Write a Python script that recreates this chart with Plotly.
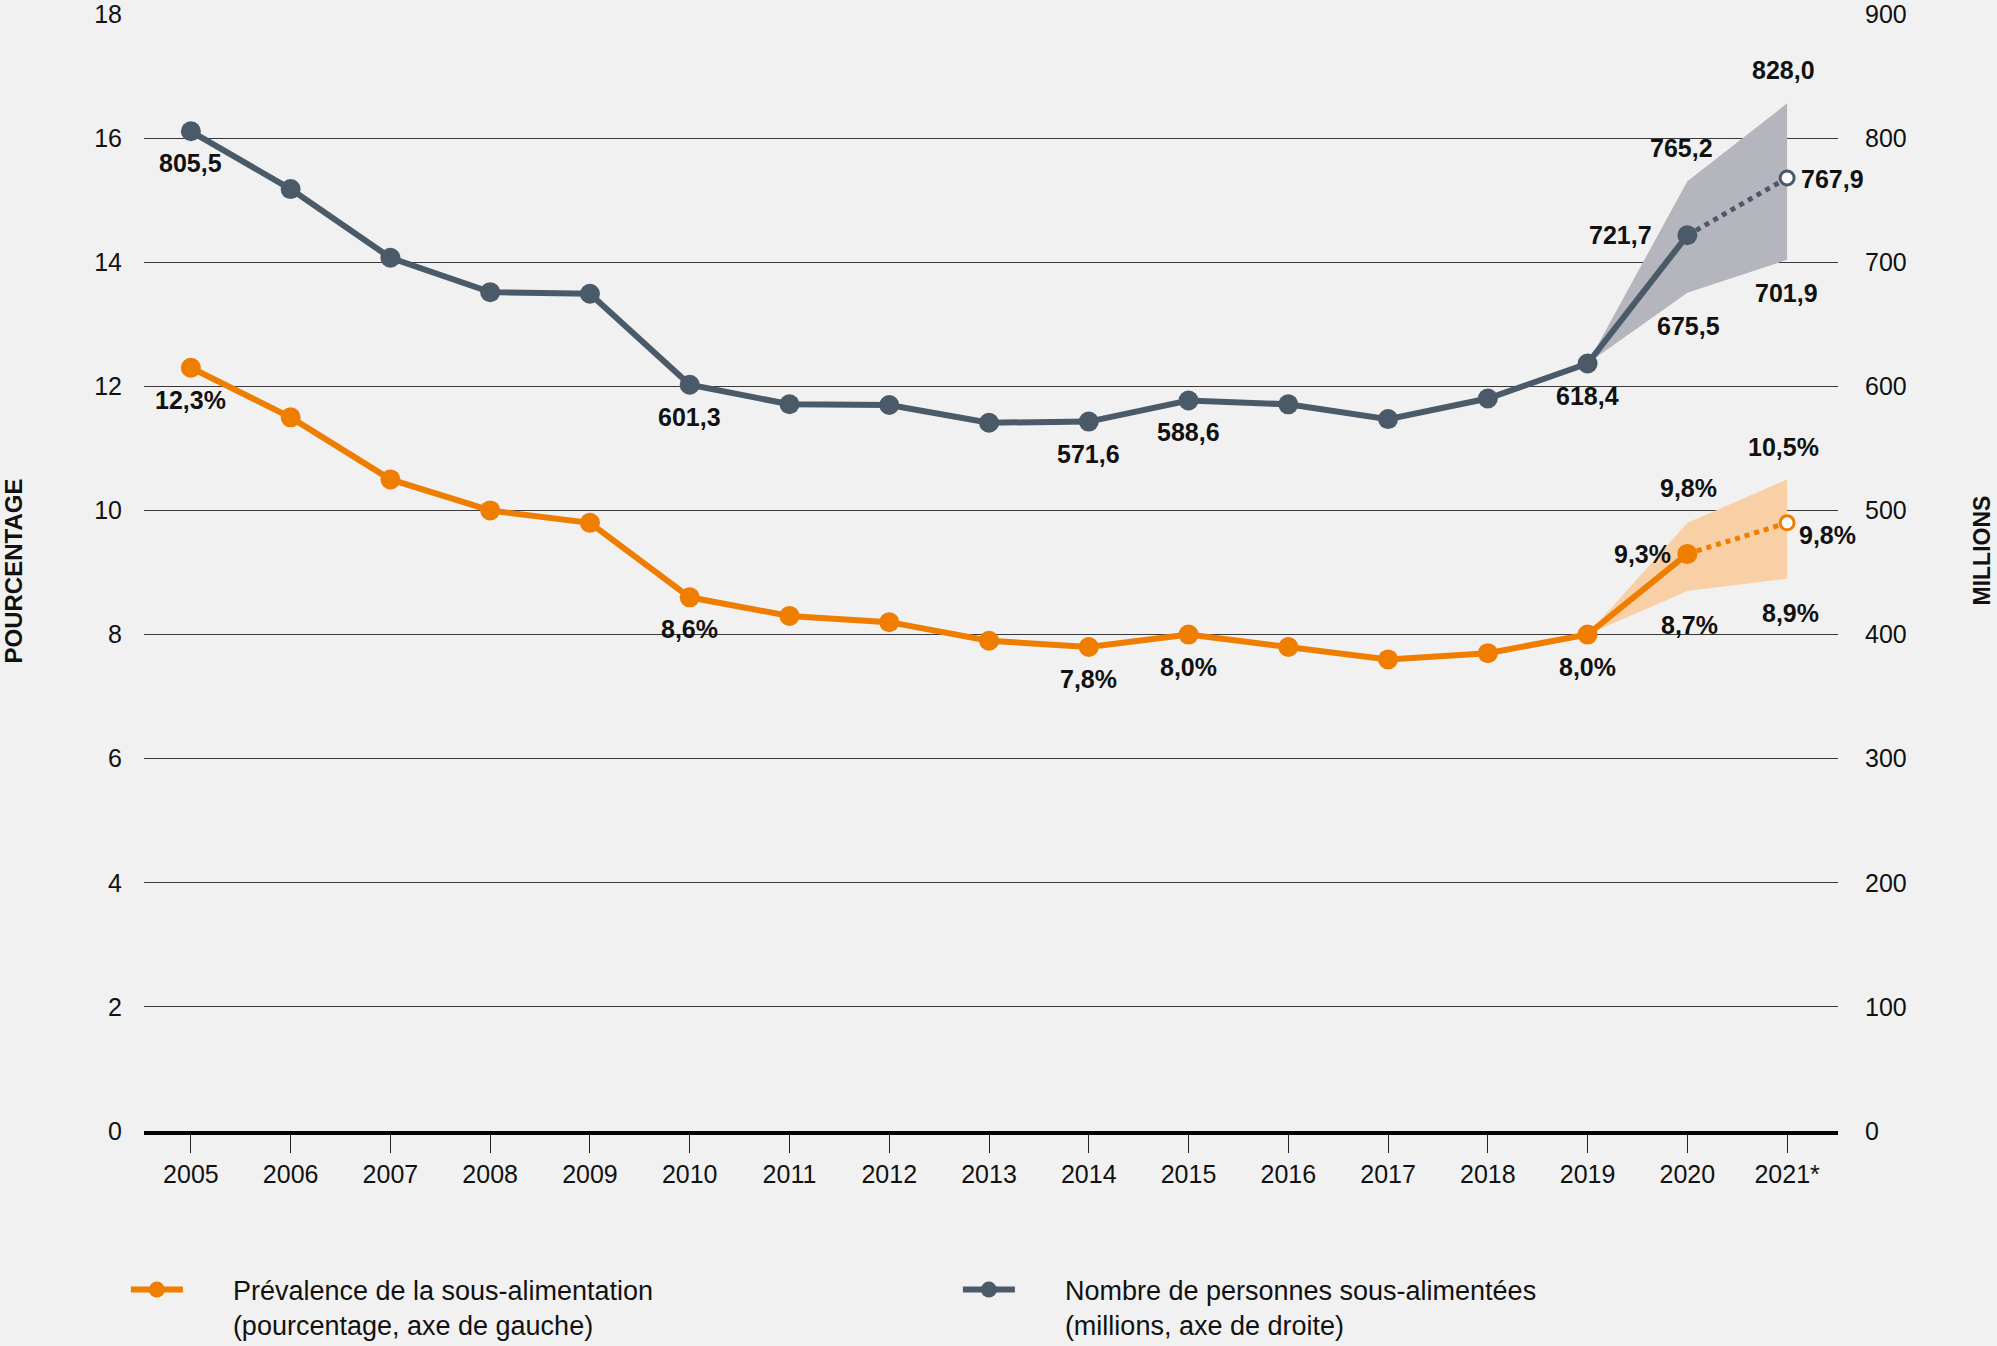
import plotly.graph_objects as go

years = ["2005", "2006", "2007", "2008", "2009", "2010", "2011", "2012", "2013",
         "2014", "2015", "2016", "2017", "2018", "2019", "2020", "2021*"]
prevalence = [12.3, 11.5, 10.5, 10.0, 9.8, 8.6, 8.3, 8.2, 7.9, 7.8, 8.0, 7.8, 7.6, 7.7, 8.0, 9.3, 9.8]
undernourished = [805.5, 758.9, 703.6, 675.9, 674.6, 601.3, 585.6, 585.0, 570.7, 571.6,
                  588.6, 585.5, 573.6, 590.2, 618.4, 721.7, 767.9]
# uncertainty ranges for 2020 and 2021*
range_years = ["2020", "2021*"]
prev_low = [8.7, 8.9]
prev_high = [9.8, 10.5]
num_low = [675.5, 701.9]
num_high = [765.2, 828.0]

left_ticks = [0, 2, 4, 6, 8, 10, 12, 14, 16, 18]
right_ticks = [0, 100, 200, 300, 400, 500, 600, 700, 800, 900]

ORANGE = "#EE7D00"
GRAY = "#4B5A69"
ORANGE_BAND = "#F9CFA6"
GRAY_BAND = "#B5B6BD"
BG = "#F1F1F1"
FONT = "Liberation Sans, Arial, sans-serif"
PAD = "\u00a0" * 6

x_idx = list(range(len(years)))
i19 = years.index("2019")
r_idx = [years.index(y) for y in range_years]

def fmt(v):
    return f"{v:.1f}".replace(".", ",")

fig = go.Figure()

# uncertainty bands (polygons built from the data)
band_x = [i19] + r_idx + r_idx[::-1] + [i19]
fig.add_trace(go.Scatter(
    x=band_x, y=[undernourished[i19]] + num_high + num_low[::-1] + [undernourished[i19]],
    fill="toself", fillcolor=GRAY_BAND, line=dict(width=0), mode="lines",
    yaxis="y2", showlegend=False, hoverinfo="skip"))
fig.add_trace(go.Scatter(
    x=band_x, y=[prevalence[i19]] + prev_high + prev_low[::-1] + [prevalence[i19]],
    fill="toself", fillcolor=ORANGE_BAND, line=dict(width=0), mode="lines",
    yaxis="y", showlegend=False, hoverinfo="skip"))

# projection dotted segments
last = len(years) - 1
fig.add_trace(go.Scatter(
    x=x_idx[last - 1:], y=undernourished[last - 1:], mode="lines",
    line=dict(color=GRAY, width=5, dash="dot"), yaxis="y2", showlegend=False))
fig.add_trace(go.Scatter(
    x=x_idx[last - 1:], y=prevalence[last - 1:], mode="lines",
    line=dict(color=ORANGE, width=5, dash="dot"), yaxis="y", showlegend=False))

# main solid lines
fig.add_trace(go.Scatter(
    x=x_idx[:last], y=prevalence[:last], mode="lines+markers",
    line=dict(color=ORANGE, width=6), marker=dict(color=ORANGE, size=20),
    name=PAD + "Prévalence de la sous-alimentation<br>" + PAD + "(pourcentage, axe de gauche)",
    yaxis="y", legendrank=1))
fig.add_trace(go.Scatter(
    x=x_idx[:last], y=undernourished[:last], mode="lines+markers",
    line=dict(color=GRAY, width=6), marker=dict(color=GRAY, size=20),
    name=PAD + "Nombre de personnes sous-alimentées<br>" + PAD + "(millions, axe de droite)",
    yaxis="y2", legendrank=2))

# open markers for 2021*
fig.add_trace(go.Scatter(
    x=[x_idx[last]], y=[undernourished[last]], mode="markers",
    marker=dict(color="white", size=14, line=dict(color=GRAY, width=3)),
    yaxis="y2", showlegend=False))
fig.add_trace(go.Scatter(
    x=[x_idx[last]], y=[prevalence[last]], mode="markers",
    marker=dict(color="white", size=14, line=dict(color=ORANGE, width=3)),
    yaxis="y", showlegend=False))

annotations = []
lab_font = dict(family=FONT, size=25, color="#111111")

def add_label(xi, yv, text, yref, xs=0, ys=0):
    annotations.append(dict(x=xi, y=yv, xref="x", yref=yref, text=f"<b>{text}</b>",
                            showarrow=False, xshift=xs, yshift=ys, font=lab_font,
                            xanchor="center", yanchor="middle"))

for yr in ["2005", "2010", "2014", "2015", "2019"]:
    i = years.index(yr)
    add_label(i, undernourished[i], fmt(undernourished[i]), "y2", 0, -32)
    add_label(i, prevalence[i], fmt(prevalence[i]) + "%", "y", 0, -32)

i20, i21 = r_idx
add_label(i20, undernourished[i20], fmt(undernourished[i20]), "y2", -67, 0)
add_label(i20, num_high[0], fmt(num_high[0]), "y2", -6, 33)
add_label(i20, num_low[0], fmt(num_low[0]), "y2", 1, -33)
add_label(i21, num_high[1], fmt(num_high[1]), "y2", -4, 33)
add_label(i21, undernourished[i21], fmt(undernourished[i21]), "y2", 45, -1)
add_label(i21, num_low[1], fmt(num_low[1]), "y2", -1, -33)

add_label(i20, prevalence[i20], fmt(prevalence[i20]) + "%", "y", -45, 0)
add_label(i20, prev_high[0], fmt(prev_high[0]) + "%", "y", 1, 35)
add_label(i20, prev_low[0], fmt(prev_low[0]) + "%", "y", 2, -34)
add_label(i21, prev_high[1], fmt(prev_high[1]) + "%", "y", -4, 32)
add_label(i21, prevalence[i21], fmt(prevalence[i21]) + "%", "y", 40, -12)
add_label(i21, prev_low[1], fmt(prev_low[1]) + "%", "y", 3, -34)

# axis titles
annotations.append(dict(x=0, y=0.5, xref="paper", yref="paper", xshift=-131, yshift=1,
                        text="<b>POURCENTAGE</b>", textangle=-90, showarrow=False,
                        font=dict(family=FONT, size=24, color="#111111"),
                        xanchor="center", yanchor="middle"))
annotations.append(dict(x=1, y=0.5, xref="paper", yref="paper", xshift=143, yshift=22,
                        text="<b>MILLIONS</b>", textangle=-90, showarrow=False,
                        font=dict(family=FONT, size=23, color="#111111"),
                        xanchor="center", yanchor="middle"))

tick_font = dict(family=FONT, size=25, color="#111111")

fig.update_layout(
    width=1997, height=1346,
    margin=dict(l=144, r=159, t=14, b=215, autoexpand=False),
    paper_bgcolor=BG, plot_bgcolor=BG,
    font=dict(family=FONT, color="#111111"),
    xaxis=dict(range=[-0.47, 16.51], tickvals=x_idx, ticktext=years, tickangle=0,
               showgrid=False, zeroline=False, showline=True, linecolor="#000000",
               linewidth=4, ticks="outside", ticklen=18, tickwidth=1, tickcolor="#222222",
               tickfont=tick_font),
    yaxis=dict(range=[0, 18], tickvals=left_ticks, showgrid=True, gridcolor="#3a3a3a",
               gridwidth=1, zeroline=False, showline=False, tickfont=tick_font,
               ticklabelstandoff=21, ticklabeloverflow="allow"),
    yaxis2=dict(range=[0, 900], tickvals=right_ticks, overlaying="y", side="right",
                showgrid=False, zeroline=False, showline=False, tickfont=tick_font,
                ticklabelstandoff=26, ticklabeloverflow="allow"),
    legend=dict(orientation="h", x=-0.0107, xanchor="left", y=-0.1204, yanchor="top",
                font=dict(family=FONT, size=27, color="#111111"),
                entrywidth=765, entrywidthmode="pixels", itemwidth=52,
                valign="top", bgcolor="rgba(0,0,0,0)"),
    annotations=annotations,
    showlegend=True,
)

fig.write_html("out.html", config={"displayModeBar": False},
               post_script="document.body.style.margin='0';")
